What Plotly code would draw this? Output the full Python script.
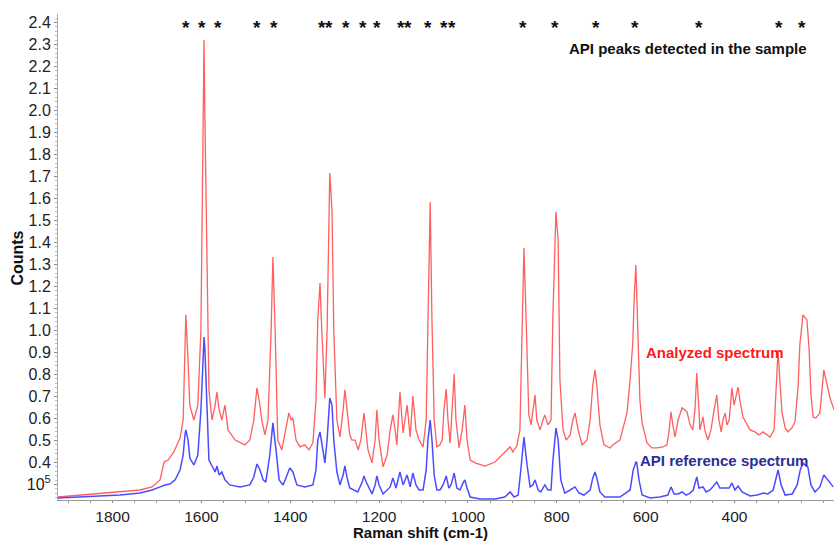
import plotly.graph_objects as go

# ---- Data (Raman shift in cm-1, counts in units of 1e5) ----
red_shift = [1923, 1873, 1828, 1783, 1738, 1711, 1693, 1684, 1675, 1662, 1648, 1641, 1637, 1635, 1630, 1626,
             1617, 1608, 1601, 1596, 1594, 1592, 1587, 1583, 1576, 1569, 1565, 1560, 1554, 1547, 1540, 1524,
             1502, 1491, 1482, 1475, 1470, 1464, 1457, 1450, 1443, 1439, 1434, 1428, 1419, 1410, 1403, 1398,
             1394, 1387, 1378, 1367, 1358, 1349, 1342, 1338, 1333, 1329, 1322, 1317, 1313, 1311, 1306, 1302,
             1295, 1288, 1281, 1277, 1272, 1266, 1261, 1254, 1247, 1241, 1234, 1225, 1216, 1209, 1205, 1200,
             1191, 1182, 1175, 1169, 1164, 1160, 1153, 1146, 1137, 1130, 1124, 1117, 1110, 1101, 1094, 1090,
             1085, 1081, 1076, 1070, 1063, 1058, 1054, 1049, 1045, 1040, 1036, 1031, 1027, 1020, 1013, 1007,
             1002, 995, 984, 962, 939, 923, 912, 905, 899, 890, 883, 878, 874, 869, 863, 858,
             854, 849, 845, 838, 831, 827, 820, 813, 809, 804, 802, 797, 793, 786, 779, 770,
             764, 759, 752, 743, 732, 725, 719, 714, 710, 703, 694, 680, 674, 658, 642, 635,
             631, 629, 626, 622, 617, 613, 608, 597, 586, 574, 561, 552, 547, 543, 539, 534,
             527, 518, 512, 507, 500, 494, 489, 485, 480, 478, 471, 467, 460, 453, 446, 440,
             435, 430, 426, 421, 417, 412, 406, 401, 392, 388, 381, 372, 365, 354, 345, 336,
             327, 320, 311, 307, 302, 298, 293, 286, 280, 271, 264, 257, 253, 246, 241, 237,
             232, 228, 223, 217, 208, 203, 199, 194, 185, 176]
red_counts = [0.243, 0.252, 0.257, 0.266, 0.275, 0.289, 0.321, 0.402, 0.411, 0.448, 0.511, 0.593, 0.866, 1.071, 0.866, 0.661,
              0.593, 0.661, 1.002, 1.957, 2.320, 1.957, 1.366, 0.730, 0.593, 0.661, 0.720, 0.639, 0.593, 0.661, 0.548, 0.502,
              0.480, 0.502, 0.593, 0.739, 0.684, 0.593, 0.525, 0.593, 1.002, 1.334, 1.002, 0.502, 0.457, 0.548, 0.625, 0.593,
              0.602, 0.502, 0.471, 0.480, 0.457, 0.489, 0.684, 1.048, 1.216, 1.002, 0.693, 1.002, 1.593, 1.716, 1.548, 1.002,
              0.593, 0.516, 0.639, 0.730, 0.639, 0.525, 0.502, 0.502, 0.457, 0.502, 0.625, 0.457, 0.398, 0.502, 0.639, 0.502,
              0.380, 0.434, 0.548, 0.616, 0.548, 0.480, 0.720, 0.534, 0.661, 0.516, 0.702, 0.548, 0.502, 0.471, 0.593, 1.002,
              1.584, 1.048, 0.593, 0.471, 0.480, 0.502, 0.639, 0.734, 0.593, 0.489, 0.639, 0.802, 0.593, 0.466, 0.548, 0.661,
              0.502, 0.411, 0.398, 0.384, 0.402, 0.434, 0.457, 0.471, 0.448, 0.475, 0.548, 1.002, 1.375, 1.048, 0.616, 0.571,
              0.639, 0.707, 0.593, 0.548, 0.593, 0.616, 0.571, 0.593, 1.048, 1.502, 1.539, 1.411, 0.775, 0.548, 0.502, 0.525,
              0.593, 0.625, 0.548, 0.480, 0.502, 0.593, 0.752, 0.821, 0.752, 0.571, 0.480, 0.466, 0.480, 0.502, 0.625, 0.775,
              0.925, 0.943, 1.139, 1.298, 0.957, 0.684, 0.580, 0.489, 0.466, 0.466, 0.471, 0.480, 0.548, 0.630, 0.571, 0.516,
              0.593, 0.648, 0.639, 0.630, 0.571, 0.548, 0.639, 0.807, 0.639, 0.548, 0.607, 0.548, 0.502, 0.548, 0.639, 0.707,
              0.593, 0.539, 0.593, 0.625, 0.571, 0.593, 0.739, 0.661, 0.743, 0.684, 0.607, 0.571, 0.548, 0.539, 0.525, 0.539,
              0.525, 0.516, 0.548, 0.684, 0.911, 0.775, 0.625, 0.557, 0.539, 0.557, 0.584, 0.743, 0.934, 1.071, 1.057, 1.048,
              0.911, 0.707, 0.607, 0.602, 0.625, 0.730, 0.821, 0.775, 0.693, 0.639]

api_shift = [1923, 1873, 1828, 1783, 1738, 1711, 1693, 1682, 1671, 1659, 1648, 1641, 1637, 1635, 1630, 1626,
             1617, 1608, 1601, 1596, 1594, 1592, 1587, 1583, 1576, 1569, 1565, 1560, 1554, 1547, 1536, 1513,
             1491, 1482, 1475, 1468, 1461, 1455, 1446, 1439, 1432, 1425, 1416, 1407, 1401, 1394, 1385, 1367,
             1349, 1342, 1338, 1333, 1329, 1322, 1317, 1311, 1306, 1302, 1295, 1288, 1281, 1277, 1272, 1266,
             1248, 1238, 1234, 1229, 1216, 1209, 1205, 1200, 1191, 1175, 1169, 1162, 1153, 1146, 1137, 1130,
             1124, 1117, 1110, 1101, 1094, 1090, 1085, 1081, 1076, 1070, 1063, 1056, 1049, 1043, 1038, 1031,
             1025, 1018, 1011, 1007, 1002, 995, 973, 939, 917, 905, 896, 887, 881, 874, 867, 860,
             854, 849, 842, 836, 827, 820, 813, 809, 802, 797, 791, 782, 770, 759, 750, 739,
             725, 719, 714, 710, 703, 692, 676, 658, 635, 628, 622, 620, 615, 608, 590, 568,
             550, 543, 536, 527, 518, 509, 500, 493, 485, 480, 471, 464, 455, 446, 440, 433,
             421, 412, 406, 399, 392, 383, 365, 349, 335, 325, 313, 306, 302, 295, 286, 270,
             259, 252, 246, 239, 235, 228, 219, 208, 199, 190, 178]
api_counts = [0.239, 0.243, 0.248, 0.252, 0.261, 0.275, 0.289, 0.298, 0.302, 0.321, 0.366, 0.434, 0.525, 0.548, 0.502, 0.420,
              0.389, 0.434, 0.639, 0.911, 0.970, 0.911, 0.639, 0.411, 0.384, 0.357, 0.384, 0.343, 0.357, 0.321, 0.298, 0.289,
              0.298, 0.334, 0.393, 0.366, 0.321, 0.311, 0.434, 0.580, 0.457, 0.321, 0.298, 0.343, 0.375, 0.357, 0.298, 0.289,
              0.298, 0.366, 0.502, 0.539, 0.480, 0.398, 0.502, 0.693, 0.661, 0.502, 0.357, 0.298, 0.343, 0.384, 0.330, 0.284,
              0.266, 0.311, 0.339, 0.311, 0.257, 0.298, 0.339, 0.298, 0.257, 0.289, 0.330, 0.284, 0.357, 0.298, 0.343, 0.289,
              0.352, 0.298, 0.275, 0.275, 0.366, 0.502, 0.593, 0.502, 0.343, 0.275, 0.275, 0.298, 0.339, 0.284, 0.298, 0.352,
              0.284, 0.275, 0.307, 0.321, 0.284, 0.243, 0.234, 0.234, 0.243, 0.266, 0.243, 0.252, 0.366, 0.516, 0.389, 0.289,
              0.298, 0.321, 0.275, 0.266, 0.298, 0.275, 0.275, 0.402, 0.557, 0.502, 0.321, 0.261, 0.275, 0.289, 0.261, 0.252,
              0.275, 0.330, 0.357, 0.330, 0.266, 0.243, 0.243, 0.243, 0.275, 0.366, 0.402, 0.398, 0.321, 0.252, 0.239, 0.243,
              0.252, 0.289, 0.257, 0.257, 0.266, 0.252, 0.261, 0.275, 0.334, 0.284, 0.289, 0.266, 0.275, 0.298, 0.311, 0.284,
              0.284, 0.284, 0.307, 0.275, 0.293, 0.266, 0.248, 0.252, 0.261, 0.257, 0.275, 0.330, 0.366, 0.298, 0.252, 0.257,
              0.298, 0.366, 0.398, 0.384, 0.380, 0.298, 0.266, 0.289, 0.343, 0.321, 0.289]

# API peak positions marked with asterisks (cm-1)
peak_marks = [1635, 1598, 1563, 1474, 1436, 1329, 1312, 1275, 1237, 1204, 1151, 1134, 1091, 1055, 1037,
              877, 804, 712, 624, 481, 301, 249]

y_tick_vals = [0.3, 0.4, 0.5, 0.6, 0.7, 0.8, 0.9, 1.0, 1.1, 1.2, 1.3, 1.4, 1.5, 1.6, 1.7, 1.8, 1.9,
               2.0, 2.1, 2.2, 2.3, 2.4]
y_tick_text = ["10<sup>5</sup>"] + ["%.1f" % v for v in y_tick_vals[1:]]
x_tick_vals = [1800, 1600, 1400, 1200, 1000, 800, 600, 400]

FONT = "Liberation Sans, Arial, sans-serif"

fig = go.Figure()
fig.add_trace(go.Scatter(x=red_shift, y=red_counts, mode="lines", name="Analyzed spectrum",
                         line=dict(color="rgb(255,95,95)", width=1.3), hoverinfo="skip"))
fig.add_trace(go.Scatter(x=api_shift, y=api_counts, mode="lines", name="API reference spectrum",
                         line=dict(color="rgb(75,75,255)", width=1.5), hoverinfo="skip"))

annotations = []
for p in peak_marks:
    annotations.append(dict(x=p, y=2.375, xref="x", yref="y", text="<b>*</b>", showarrow=False,
                            font=dict(family=FONT, size=19, color="#111"), xanchor="center", yanchor="middle"))
annotations += [
    dict(x=505, y=2.282, xref="x", yref="y", text="<b>API peaks detected in the sample</b>", showarrow=False,
         font=dict(family=FONT, size=15, color="#111"), xanchor="center", yanchor="middle"),
    dict(x=445, y=0.9, xref="x", yref="y", text="<b>Analyzed spectrum</b>", showarrow=False,
         font=dict(family=FONT, size=15, color="rgb(255,25,25)"), xanchor="center", yanchor="middle"),
    dict(x=424, y=0.407, xref="x", yref="y", text="<b>API reference spectrum</b>", showarrow=False,
         font=dict(family=FONT, size=15, color="rgb(45,45,150)"), xanchor="center", yanchor="middle"),
    dict(x=-0.052, y=0.498, xref="paper", yref="paper", text="<b>Counts</b>", showarrow=False, textangle=-90,
         font=dict(family=FONT, size=16, color="#111"), xanchor="center", yanchor="middle"),
    dict(x=0.4665, y=-0.0862, xref="paper", yref="paper", text="<b>Raman shift (cm-1)</b>", showarrow=False,
         borderpad=0, font=dict(family=FONT, size=15, color="#111"), xanchor="center", yanchor="bottom"),
]

fig.update_layout(
    width=834, height=542,
    margin=dict(l=58, r=0, t=14, b=42),
    paper_bgcolor="white", plot_bgcolor="white",
    showlegend=False,
    annotations=annotations,
    font=dict(family=FONT, size=16, color="#222"),
    xaxis=dict(range=[1922.7, 176.1], tickvals=x_tick_vals, ticks="outside", ticklen=2,
               tickcolor="#888", showline=True, linecolor="#999", linewidth=1, showgrid=False,
               zeroline=False, tickfont=dict(family=FONT, size=15.5, color="#222"),
               minor=dict(dtick=50, tick0=0, ticks="outside", ticklen=2, tickcolor="#999")),
    yaxis=dict(range=[0.2295, 2.4386], tickvals=y_tick_vals, ticktext=y_tick_text, ticks="outside",
               ticklen=3, tickcolor="#888", showline=True, linecolor="#aaa", linewidth=1, showgrid=False,
               zeroline=False, tickfont=dict(family=FONT, size=16, color="#222"),
               minor=dict(dtick=0.02, tick0=0, ticks="outside", ticklen=2, tickcolor="#bbb")),
)

fig.write_html("out.html", config={"displayModeBar": False},
               post_script="document.body.style.margin='0';document.body.style.padding='0';")
